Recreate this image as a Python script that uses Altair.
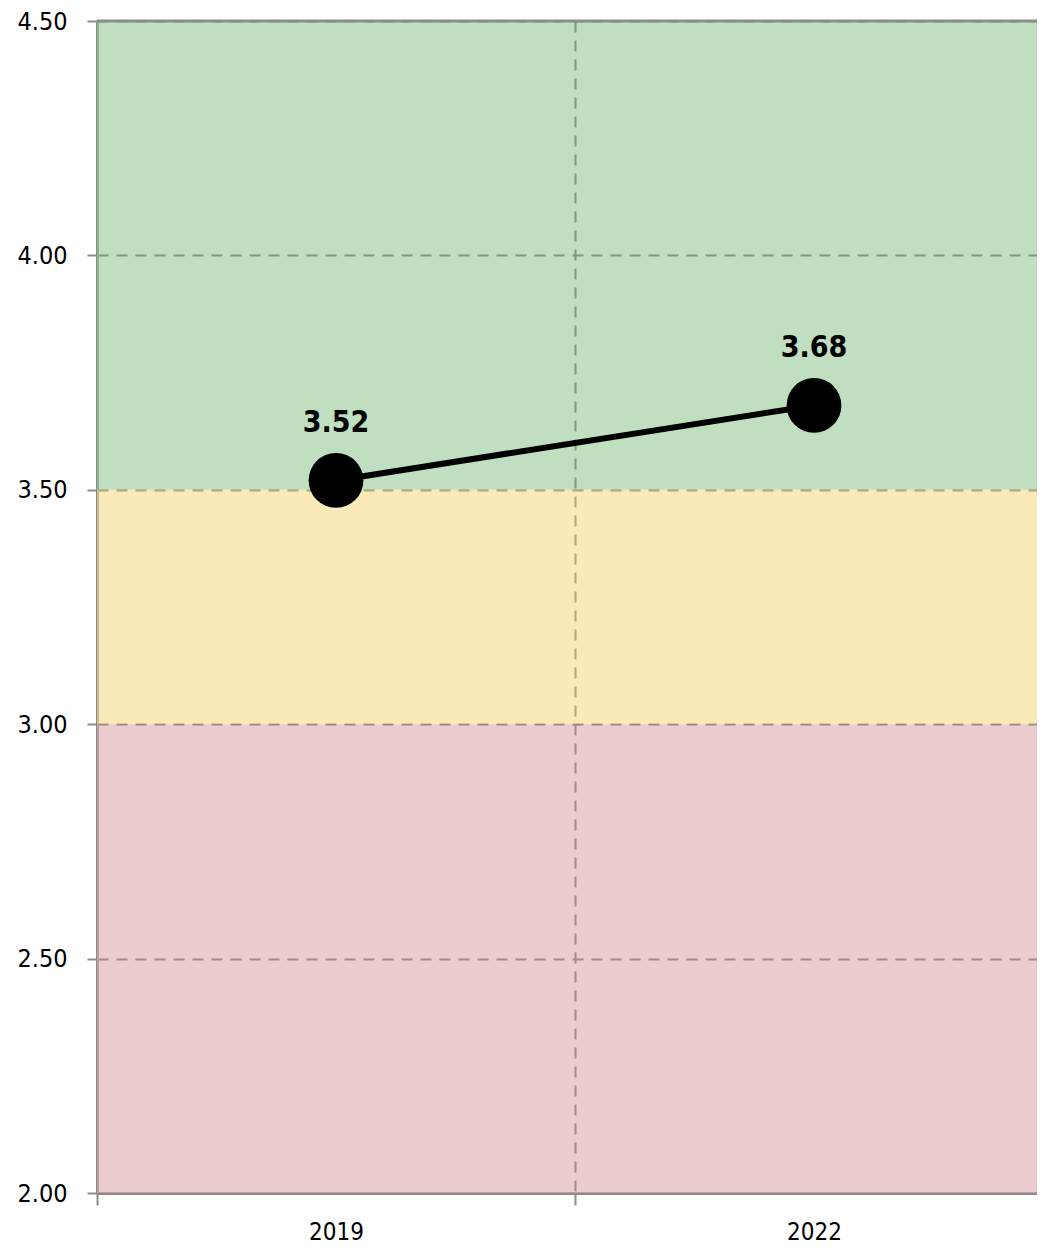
import altair as alt
import pandas as pd

years = ["2019", "2022"]
scores = [3.52, 3.68]

zone_names = ["good", "middle", "low"]
zone_lo = [3.5, 3.0, 2.0]
zone_hi = [4.5, 3.5, 3.0]
zone_colors = ["#96CA96", "#F7DA8A", "#DEACAF"]

y_ticks = [2.0, 2.5, 3.0, 3.5, 4.0, 4.5]

FONT = "Liberation Sans Narrow, DejaVu Sans Condensed, sans-serif"
AXIS_GREY = "#8c8c8c"
GRID_GREY = "#555555"

zones = pd.DataFrame({"zone": zone_names, "lo": zone_lo, "hi": zone_hi})
pts = pd.DataFrame({"year": years, "score": scores})
top = pd.DataFrame({"top": [max(zone_hi)]})

yscale = alt.Scale(domain=[2.0, 4.5], nice=False, zero=False)
# band range wider than the visible plot: the right part is cut off as in the reference
xscale = alt.Scale(type="band", paddingInner=0, paddingOuter=0, range=[0, 956])

bg = alt.Chart(zones).mark_rect(opacity=0.6).encode(
    y=alt.Y("lo:Q", scale=yscale,
            axis=alt.Axis(values=y_ticks, format=".2f", title=None,
                          grid=True, gridColor=GRID_GREY, gridDash=[11, 8],
                          gridWidth=2, domainColor=AXIS_GREY, domainWidth=3,
                          tickColor=AXIS_GREY, tickWidth=2, tickSize=10,
                          labelPadding=20, labelFont=FONT, labelFontSize=25,
                          labelColor="#000000")),
    y2="hi:Q",
    color=alt.Color("zone:N", scale=alt.Scale(domain=zone_names, range=zone_colors),
                    legend=None),
)

top_rule = alt.Chart(top).mark_rule(color=AXIS_GREY, strokeWidth=3).encode(
    y=alt.Y("top:Q", scale=yscale))

xenc = alt.X("year:N", scale=xscale,
             axis=alt.Axis(title=None, labelAngle=0, tickBand="extent",
                           grid=True, gridColor=GRID_GREY, gridDash=[11, 8],
                           gridWidth=2, domainColor=AXIS_GREY, domainWidth=3,
                           tickColor=AXIS_GREY, tickWidth=2, tickSize=12,
                           labelPadding=15, labelFont=FONT, labelFontSize=24,
                           labelColor="#000000"))
yenc = alt.Y("score:Q", scale=yscale)

line = alt.Chart(pts).mark_line(color="#000000", strokeWidth=6).encode(x=xenc, y=yenc)
dots = alt.Chart(pts).mark_point(filled=True, color="#000000", opacity=1, size=3000).encode(x=xenc, y=yenc)
labels = alt.Chart(pts).mark_text(dy=-48, baseline="alphabetic", fontWeight="bold",
                                  fontSize=30, font=FONT, color="#000000").encode(
    x=xenc, y=yenc, text=alt.Text("score:Q", format=".2f"))

chart = alt.layer(bg, top_rule, line, dots, labels).properties(
    width=940, height=1172,
    autosize=alt.AutoSizeParams(type="none"),
    padding={"left": 89, "top": 13, "right": 0, "bottom": 54},
).configure_view(stroke=None).configure(background="#ffffff")

chart.save("out.html", embed_options={"renderer": "svg", "actions": False})
